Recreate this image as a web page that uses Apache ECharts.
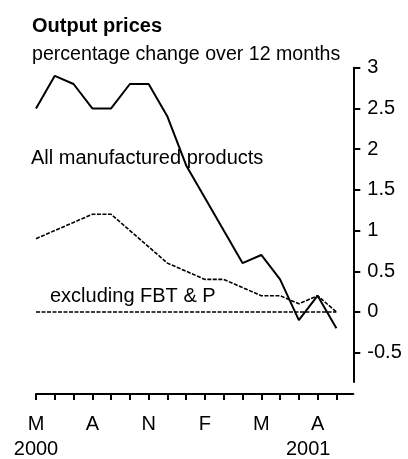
<!DOCTYPE html>
<html>
<head>
<meta charset="utf-8">
<script src="https://cdn.jsdelivr.net/npm/echarts@6/dist/echarts.min.js"></script>
<style>
  html, body { margin: 0; padding: 0; background: #fff; }
  #chart { width: 408px; height: 459px; }
</style>
</head>
<body>
<div id="chart"></div>
<script>
// months May 2000 .. Sep 2001
const months = ['May 2000', 'Jun', 'Jul', 'Aug', 'Sep', 'Oct', 'Nov', 'Dec',
  'Jan 2001', 'Feb', 'Mar', 'Apr', 'May', 'Jun', 'Jul', 'Aug', 'Sep'];
const monthLetters = ['M', 'J', 'J', 'A', 'S', 'O', 'N', 'D', 'J', 'F', 'M', 'A', 'M', 'J', 'J', 'A', 'S'];
const labelIdx = [0, 3, 6, 9, 12, 15];
const yearTicks = [0, 14.5];
const yearLabels = ['2000', '2001'];

const allManufactured = [2.5, 2.9, 2.8, 2.5, 2.5, 2.8, 2.8, 2.4, 1.8, 1.4, 1.0, 0.6, 0.7, 0.4, -0.1, 0.2, -0.2];
const exclFBTP = [0.9, 1.0, 1.1, 1.2, 1.2, 1.0, 0.8, 0.6, 0.5, 0.4, 0.4, 0.3, 0.2, 0.2, 0.1, 0.2, 0.0];
const yTicks = [-0.5, 0, 0.5, 1, 1.5, 2, 2.5, 3];

const font = 'Liberation Sans, Arial, sans-serif';
const toPairs = arr => arr.map((v, i) => [i, v]);

const chart = echarts.init(document.getElementById('chart'));

chart.setOption({
  animation: false,
  title: {
    text: 'Output prices',
    subtext: 'percentage change over 12 months',
    left: 32,
    top: 16,
    itemGap: 9,
    padding: 0,
    textStyle: { fontFamily: font, fontSize: 20, fontWeight: 'bold', color: '#000' },
    subtextStyle: { fontFamily: font, fontSize: 19.6, color: '#000' }
  },
  grid: { left: 36, right: 54.7, top: 67.7, bottom: 74.7 },
  xAxis: [
    {
      type: 'value',
      min: 0,
      max: 16.9,
      position: 'bottom',
      offset: 12,
      splitLine: { show: false },
      axisLine: { show: true, onZero: false, lineStyle: { color: '#000', width: 2 } },
      axisTick: {
        show: true,
        customValues: months.map((m, i) => i),
        length: 6,
        lineStyle: { color: '#000', width: 2 }
      },
      axisLabel: {
        customValues: labelIdx,
        formatter: v => monthLetters[v],
        margin: 20,
        fontFamily: font,
        fontSize: 20,
        color: '#000'
      }
    },
    {
      type: 'value',
      min: 0,
      max: 16.9,
      position: 'bottom',
      offset: 12,
      splitLine: { show: false },
      axisLine: { show: false, onZero: false },
      axisTick: { show: false },
      axisLabel: {
        customValues: yearTicks,
        formatter: v => yearLabels[yearTicks.indexOf(v)],
        margin: 45,
        fontFamily: font,
        fontSize: 20,
        color: '#000'
      }
    }
  ],
  yAxis: {
    type: 'value',
    position: 'right',
    min: -0.86,
    max: 3,
    splitLine: { show: false },
    axisLine: { show: true, onZero: false, lineStyle: { color: '#000', width: 2 } },
    axisTick: {
      show: true,
      customValues: yTicks,
      length: 7,
      lineStyle: { color: '#000', width: 2 }
    },
    axisLabel: {
      customValues: yTicks,
      margin: 14,
      fontFamily: font,
      fontSize: 20,
      color: '#000'
    }
  },
  graphic: [
    {
      type: 'text',
      left: 31,
      top: 148,
      style: { text: 'All manufactured products', font: '20px ' + font, fill: '#000' }
    },
    {
      type: 'text',
      left: 50,
      top: 286,
      style: { text: 'excluding FBT & P', font: '20px ' + font, fill: '#000' }
    }
  ],
  series: [
    {
      name: 'excluding FBT & P',
      type: 'line',
      data: toPairs(exclFBTP),
      symbol: 'none',
      lineStyle: { color: '#000', width: 1.6, type: [4, 1.5] },
      markLine: {
        silent: true,
        symbol: 'none',
        label: { show: false },
        lineStyle: { color: '#000', width: 1.6, type: [4, 1.5] },
        data: [[{ coord: [0, 0] }, { coord: [months.length - 1, 0] }]]
      },
      z: 2
    },
    {
      name: 'All manufactured products',
      type: 'line',
      data: toPairs(allManufactured),
      symbol: 'none',
      lineStyle: { color: '#000', width: 2 },
      z: 3
    }
  ]
});
</script>
</body>
</html>
